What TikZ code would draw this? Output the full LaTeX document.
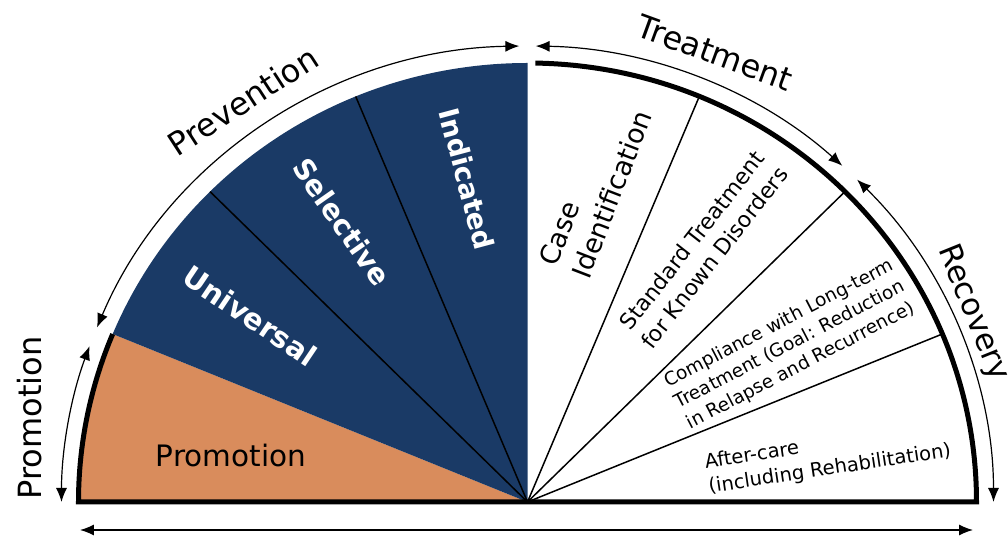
\documentclass[tikz,border=0pt]{standalone}
\usepackage{fontspec}
\setmainfont{DejaVu Sans}
\usetikzlibrary{arrows.meta,calc}
\definecolor{navy}{HTML}{1A3A66}
\definecolor{promo}{HTML}{D98C5C}

\begin{document}
\begin{tikzpicture}[x=1pt, y=1pt, >={Latex[length=14pt,width=11pt]},
    outer/.style={font=\fontsize{#1}{#1}\selectfont},
    band/.style={font=\fontsize{#1}{#1}\selectfont\bfseries, text=white},
    treat/.style={font=\fontsize{#1}{1.28\dimexpr#1pt\relax}\selectfont, align=center},
    spoke/.style={line width=1.5pt},
    span/.style={<->, line width=1.2pt}]
  \useasboundingbox (-527.5,-38) rectangle (480.5,502);
  \coordinate (O) at (0,0);
  % sectors
  \fill[promo] (O) -- (180:449pt and 439pt)
    arc[start angle=180, end angle=157.5, x radius=449pt, y radius=439pt] -- cycle;
  \fill[navy] (O) -- (157.5:449pt and 439pt)
    arc[start angle=157.5, end angle=90, x radius=449pt, y radius=439pt] -- cycle;
  \foreach \a in {22.5,45,67.5,112.5,135}
    \draw[spoke] (O) -- (\a:449pt and 439pt);
  \draw[line width=5pt] (157.5:449pt and 439pt)
    arc[start angle=157.5, end angle=180, x radius=449pt, y radius=439pt]
    -- (0:449pt and 439pt)
    arc[start angle=0, end angle=89, x radius=449pt, y radius=439pt];

  % outer spans
  \coordinate (promS) at (180:466pt and 456pt);
  \coordinate (prevS) at (157.5:466pt and 456pt);
  \coordinate (treatS) at (89:466pt and 456pt);
  \coordinate (recS) at (45:466pt and 456pt);
  \draw[span] (promS) arc[start angle=180, end angle=160, x radius=466pt, y radius=456pt];
  \draw[span] (prevS) arc[start angle=157.5, end angle=91, x radius=466pt, y radius=456pt];
  \draw[span] (treatS) arc[start angle=89, end angle=47.5, x radius=466pt, y radius=456pt];
  \draw[span] (recS) arc[start angle=45, end angle=0, x radius=466pt, y radius=456pt];
  \coordinate (baseL) at (-447.5,-28);
  \coordinate (baseR) at (445.5,-28);
  \draw[span] (baseL) -- (baseR);

  % outer labels
  \node[outer=32, rotate=90] (lpromo) at (-497.5,84) {Promotion};
  \node[outer=32, rotate=33] (lprev) at (-284.5,401) {Prevention};
  \node[outer=32, rotate=-20] (ltreat) at (187.5,449) {Treatment};
  \node[outer=31, rotate=-68] (lrec) at (445,189) {Recovery};

  % sector labels
  \node[font=\fontsize{29.5}{30}\selectfont, anchor=base] (promo) at (-296.5,35) {Promotion};
  \node[band=29, rotate=-34] (univ) at (-277.5,186) {Universal};
  \node[band=28.5, rotate=-55] (sel) at (-185.5,280) {Selective};
  \node[band=27.5, rotate=-75] (ind) at (-60.5,323) {Indicated};
  \node[treat=27, align=left, rotate=69] (case) at (68,314) {Case\\Identification};
  \node[treat=22, rotate=52] (std) at (175.5,253) {Standard Treatment\\for Known Disorders};
  \node[treat=18.5, rotate=27.5] (comp) at (262.5,157)
    {Compliance with Long-term\\Treatment (Goal: Reduction\\in Relapse and Recurrence)};
  \node[treat=19.5, align=left, rotate=8.6] (after) at (300.5,45)
    {After-care\\(including Rehabilitation)};
\end{tikzpicture}
\end{document}
